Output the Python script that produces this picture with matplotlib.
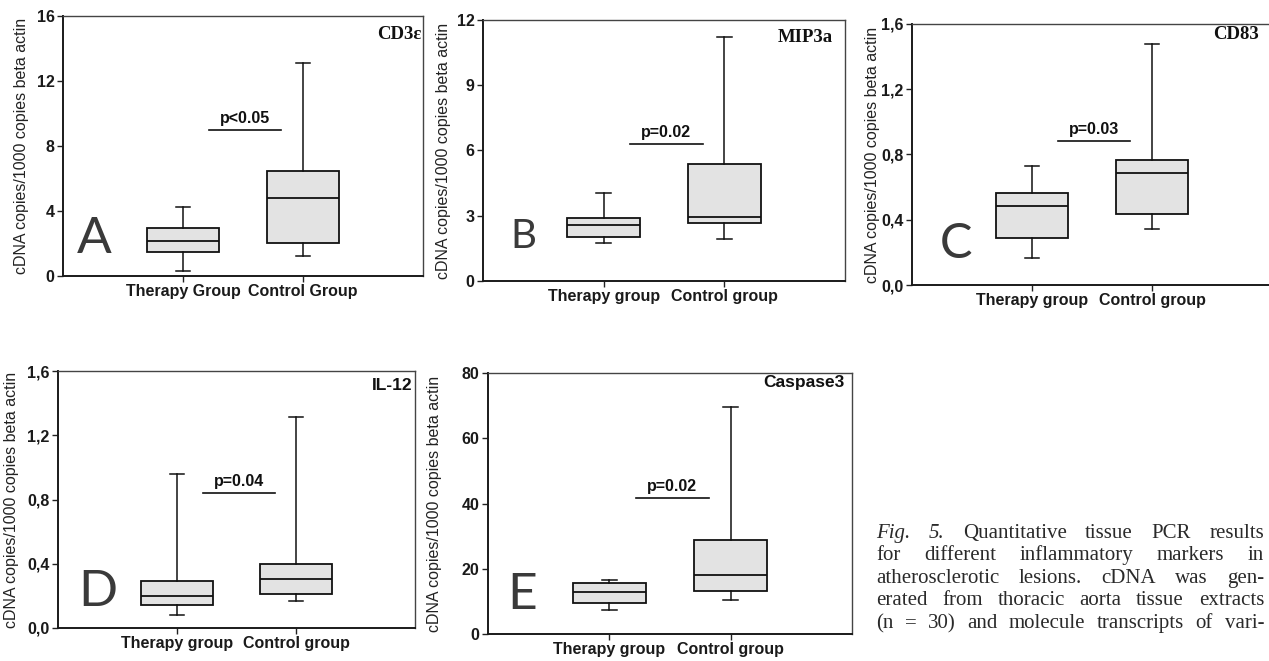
import matplotlib
matplotlib.use("Agg")
import matplotlib.pyplot as plt
from matplotlib import font_manager

# five-number summaries: low whisker, q1, median, q3, high whisker
cd3e_therapy = [0.33, 1.46, 2.17, 2.97, 4.23]
cd3e_control = [1.23, 2.01, 4.78, 6.48, 13.1]
mip3a_therapy = [1.73, 2.04, 2.57, 2.88, 4.03]
mip3a_control = [1.93, 2.68, 2.96, 5.38, 11.2]
cd83_therapy = [0.167, 0.286, 0.486, 0.562, 0.731]
cd83_control = [0.341, 0.435, 0.689, 0.764, 1.476]
il12_therapy = [0.084, 0.146, 0.199, 0.293, 0.956]
il12_control = [0.167, 0.209, 0.303, 0.397, 1.313]
casp3_therapy = [7.5, 9.6, 12.8, 15.7, 16.5]
casp3_control = [10.5, 13.3, 18.0, 28.8, 69.5]

groups_a = ["Therapy Group", "Control Group"]
groups = ["Therapy group", "Control group"]
markers = ["CD3ε", "MIP3a", "CD83", "IL-12", "Caspase3"]
letters = ["A", "B", "C", "D", "E"]
p_labels = ["p<0.05", "p=0.02", "p=0.03", "p=0.04", "p=0.02"]
p_heights = [9.0, 6.3, 0.88, 0.84, 41.7]

yticks_a = [0, 4, 8, 12, 16]
yticks_b = [0, 3, 6, 9, 12]
yticks_cd = [0.0, 0.4, 0.8, 1.2, 1.6]
ytick_labels_cd = ["0,0", "0,4", "0,8", "1,2", "1,6"]
yticks_e = [0, 20, 40, 60, 80]

ylabel = "cDNA copies/1000 copies beta actin"

caption_lines = [
    "Fig. 5. Quantitative tissue PCR results",
    "for different inflammatory markers in",
    "atherosclerotic lesions. cDNA was gen-",
    "erated from thoracic aorta tissue extracts",
    "(n = 30) and molecule transcripts of vari-",
]

installed = {f.name for f in font_manager.fontManager.ttflist}


def pick(*names):
    for n in names:
        if n in installed:
            return n
    return "DejaVu Sans"


SANS = pick("Liberation Sans", "Arimo")
SERIF = pick("Liberation Serif", "DejaVu Serif")
BIG = pick("Lato", "Open Sans", "Liberation Sans")

W, H = 1269, 661
fig = plt.figure(figsize=(W / 100, H / 100), dpi=100)

# panel frames in pixels: left, top, right, bottom
frames = [
    (63, 16, 423, 276),
    (483, 20, 845, 281),
    (912, 24, 1272, 285),
    (58, 371, 415, 628),
    (488, 373, 852, 634),
]
panels = [
    (cd3e_therapy, cd3e_control, groups_a, yticks_a, None),
    (mip3a_therapy, mip3a_control, groups, yticks_b, None),
    (cd83_therapy, cd83_control, groups, yticks_cd, ytick_labels_cd),
    (il12_therapy, il12_control, groups, yticks_cd, ytick_labels_cd),
    (casp3_therapy, casp3_control, groups, yticks_e, None),
]
ylabel_x = [-0.114, -0.11, -0.111, -0.129, -0.146]
letter_pos = [(0.039, 0.088, 37), (0.077, 0.126, 29), (0.078, 0.103, 35),
              (0.056, 0.085, 37), (0.052, 0.096, 37)]
title_pos = [(0.997, 0.912, "right", SERIF), (0.967, 0.916, "right", SERIF),
             (0.836, 0.943, "left", SERIF), (0.994, 0.926, "right", SANS),
             (0.755, 0.946, "left", SANS)]

for i, (therapy, control, names, yt, ytl) in enumerate(panels):
    l, t, r, b = frames[i]
    ax = fig.add_axes([l / W, 1 - b / H, (r - l) / W, (b - t) / H])

    stats = []
    for vals, name in zip([therapy, control], names):
        lo, q1, med, q3, hi = vals
        stats.append(dict(label=name, whislo=lo, q1=q1, med=med, q3=q3, whishi=hi))
    ax.bxp(stats, positions=[1, 2], widths=0.6, patch_artist=True,
           showfliers=False, capwidths=0.12,
           boxprops=dict(facecolor="#e3e3e3", edgecolor="#111111", linewidth=1.3),
           medianprops=dict(color="#111111", linewidth=1.3),
           whiskerprops=dict(color="#111111", linewidth=1.1),
           capprops=dict(color="#111111", linewidth=1.1))

    ax.set_xlim(0, 3)
    ax.set_ylim(yt[0], yt[-1])
    ax.set_yticks(yt)
    if ytl:
        ax.set_yticklabels(ytl)
    ax.set_xticks([1, 2])
    ax.set_xticklabels(names)
    for lab in ax.get_xticklabels() + ax.get_yticklabels():
        lab.set_fontfamily(SANS)
        lab.set_fontweight("bold")
        lab.set_fontsize(11.5)
        lab.set_color("#1a1a1a")
    ax.tick_params(axis="both", direction="out", length=4, width=1.0,
                   color="#222222", pad=2)

    for side in ["left", "bottom"]:
        ax.spines[side].set_linewidth(1.4)
        ax.spines[side].set_color("#1a1a1a")
    for side in ["top", "right"]:
        ax.spines[side].set_linewidth(1.0)
        ax.spines[side].set_color("#444444")

    ax.text(ylabel_x[i], 0.5, ylabel, rotation=90, transform=ax.transAxes,
            ha="center", va="center", fontsize=11.5, family=SANS, color="#222222")

    # significance bar with p value
    h = p_heights[i]
    ax.plot([1.22, 1.82], [h, h], color="#111111", linewidth=1.2)
    ax.annotate(p_labels[i], (1.52, h), xytext=(0, 3), textcoords="offset points",
                ha="center", va="bottom", fontsize=11.5, fontweight="bold",
                family=SANS, color="#111111")

    lx, ly, lsize = letter_pos[i]
    ax.text(lx, ly, letters[i], transform=ax.transAxes, ha="left", va="baseline",
            fontsize=lsize, family=BIG, color="#3a3a3a")

    tx, ty, tha, tfam = title_pos[i]
    ax.text(tx, ty, markers[i], transform=ax.transAxes, ha=tha, va="baseline",
            fontsize=13.5 if tfam == SERIF else 12.5, fontweight="bold",
            family=tfam, color="#111111")

# justified caption at the lower right
renderer = fig.canvas.get_renderer()
cap_left, cap_right = 876, 1264
baselines = [538, 560, 583, 605, 628]

# size the serif so the tightest line ("erated from ...") nearly fills the column
probe = fig.text(0, 0, caption_lines[3], fontsize=14, family=SERIF)
natural = probe.get_window_extent(renderer).width
probe.remove()
cap_size = min(15.0, max(12.5, 14 * 372 / natural))

for line, base in zip(caption_lines, baselines):
    words = line.split(" ")
    texts = []
    for j, w in enumerate(words):
        italic = line.startswith("Fig.") and j < 2
        txt = fig.text(0, 1 - base / H, w, fontsize=cap_size, family=SERIF,
                       style="italic" if italic else "normal",
                       color="#2a2a2a", va="baseline", ha="left")
        texts.append(txt)
    widths = [tx.get_window_extent(renderer).width for tx in texts]
    gap = (cap_right - cap_left - sum(widths)) / (len(words) - 1)
    x = cap_left
    for txt, wd in zip(texts, widths):
        txt.set_x(x / W)
        x += wd + gap

fig.savefig("out.png", dpi=100)
